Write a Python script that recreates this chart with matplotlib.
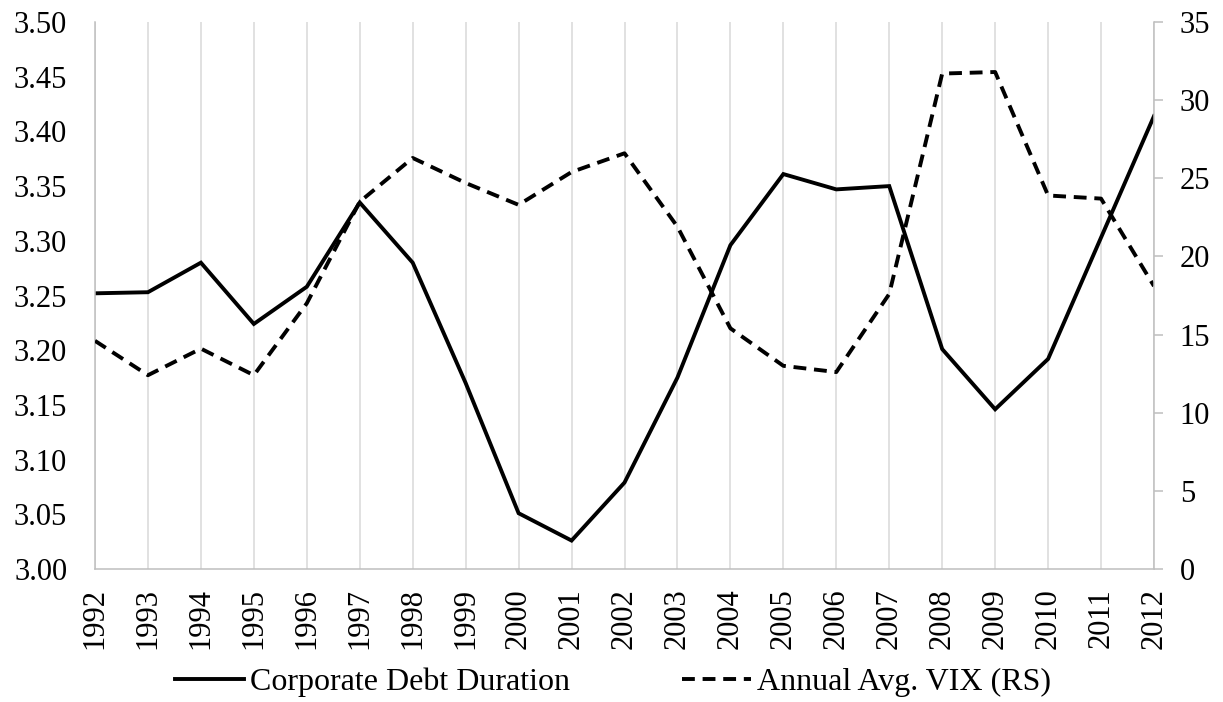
import numpy as np
import matplotlib
matplotlib.use("Agg")
import matplotlib.pyplot as plt

years = list(range(1992, 2013))
debt_duration = [3.252, 3.253, 3.280, 3.224, 3.258, 3.335, 3.280, 3.170, 3.051, 3.026,
                 3.079, 3.175, 3.296, 3.361, 3.347, 3.350, 3.201, 3.146, 3.192, 3.303, 3.414]
vix = [14.6, 12.4, 14.1, 12.4, 17.0, 23.5, 26.3, 24.7, 23.3, 25.4,
       26.6, 21.9, 15.4, 13.0, 12.6, 17.6, 31.7, 31.8, 23.9, 23.7, 18.1]

plt.rcParams['font.family'] = ['Liberation Serif', 'DejaVu Serif']
grey = '#d9d9d9'

fig = plt.figure(figsize=(12.23, 7.02), dpi=100)
ax = fig.add_axes([95 / 1223, 1 - 569 / 702, (1154 - 95) / 1223, (569 - 22) / 702])
ax2 = ax.twinx()

l1, = ax.plot(years, debt_duration, color='black', lw=2.8, solid_joinstyle='miter',
              label='Corporate Debt Duration')
l2, = ax2.plot(years, vix, color='black', lw=2.8, dashes=(3.3, 2.0),
               label='Annual Avg. VIX (RS)')

ax.set_xlim(1992, 2012)
ax.set_ylim(3.0, 3.5)
ax.set_yticks(np.arange(3.0, 3.501, 0.05))
ax.set_yticklabels([f'{v:.2f}' for v in np.arange(3.0, 3.501, 0.05)])
ax.set_xticks(years)
ax.set_xticklabels([str(y) for y in years], rotation=90)
ax.grid(axis='x', color=grey, lw=1.1)
ax.set_axisbelow(True)

ax2.set_ylim(0, 35)
ax2.set_yticks(range(0, 36, 5))

ax.tick_params(axis='y', length=0, pad=20, labelsize=22)
ax.tick_params(axis='x', length=0, pad=14, labelsize=22)
ax2.tick_params(axis='y', length=6.5, width=1.1, color='#bfbfbf', pad=12, labelsize=22)

for a in (ax, ax2):
    a.spines['top'].set_visible(False)
    for s in ('left', 'right', 'bottom'):
        a.spines[s].set_color('#bfbfbf')
        a.spines[s].set_linewidth(1.1)
ax2.spines['left'].set_visible(False)
ax2.spines['bottom'].set_visible(False)
ax.spines['right'].set_visible(False)

fig.legend(handles=[l1, l2], loc='center', bbox_to_anchor=(613 / 1223, 1 - 682 / 702),
           ncol=2, frameon=False, fontsize=23, handlelength=2.15, handletextpad=0.2,
           columnspacing=3.5)

fig.savefig('out.png', dpi=100)
